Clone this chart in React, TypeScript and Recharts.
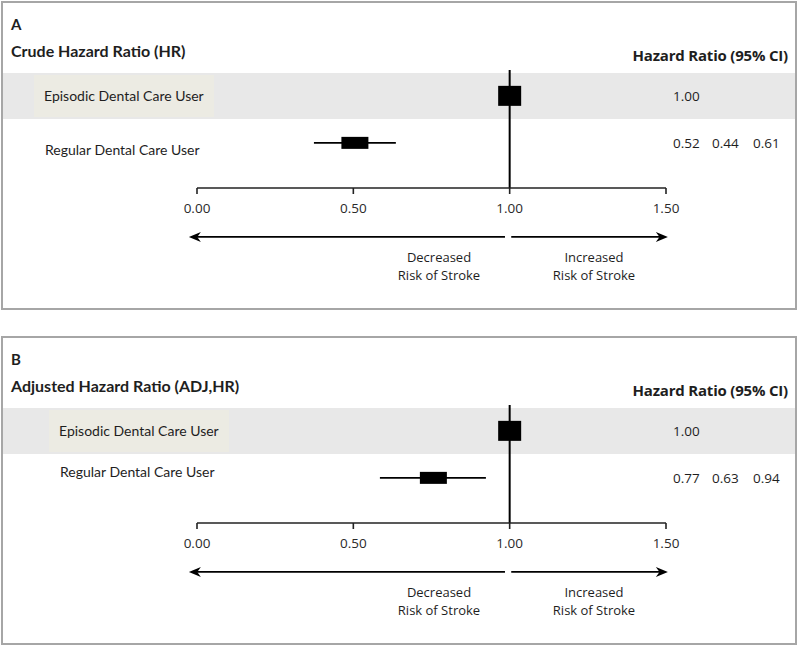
import React from "react";
import {
  ComposedChart,
  ErrorBar,
  ReferenceLine,
  Scatter,
  XAxis,
  YAxis,
} from "recharts";

const rowLabels = ["Episodic Dental Care User", "Regular Dental Care User"];
const rowIndex = [0, 1];
const axisTicks = [0, 0.5, 1, 1.5];

// table values as printed on the right
const crudeHR = ["1.00", "0.52"];
const crudeLow = ["", "0.44"];
const crudeHigh = ["", "0.61"];
const adjHR = ["1.00", "0.77"];
const adjLow = ["", "0.63"];
const adjHigh = ["", "0.94"];

// marks as they are drawn in the figure (box centre, whisker ends)
const crudeMark = [1.0, 0.505];
const crudeMarkLow = [1.0, 0.374];
const crudeMarkHigh = [1.0, 0.636];
const adjMark = [1.0, 0.756];
const adjMarkLow = [1.0, 0.585];
const adjMarkHigh = [1.0, 0.924];

// direction arrows under the axis (tail, tip)
const decreasedArrow = [0.985, -0.026];
const increasedArrow = [1.005, 1.506];

const LABEL_FONT = "Lato, 'Open Sans', sans-serif";
const NUM_FONT = "'Open Sans', 'Noto Sans', sans-serif";
const INK = "#1e1e1e";

type Row = { row: number; hr: number; err: [number, number]; ref: boolean };

function buildRows(mark: number[], lo: number[], hi: number[]): Row[] {
  return rowIndex.map((i) => ({
    row: i,
    hr: mark[i],
    err: [mark[i] - lo[i], hi[i] - mark[i]],
    ref: i === 0,
  }));
}

function Marker(props: any) {
  const { cx, cy, payload } = props;
  const w = payload.ref ? 23 : 27;
  const h = payload.ref ? 20 : 12;
  return <rect x={cx - w / 2} y={cy - h / 2} width={w} height={h} fill="#000" />;
}

function Arrow(props: any) {
  const { x1, y1, x2, y2 } = props;
  const dir = x2 > x1 ? 1 : -1;
  const len = 12;
  const half = 5;
  return (
    <g>
      <line x1={x1} y1={y1} x2={x2 - dir * len * 0.6} y2={y2} stroke="#000" strokeWidth={1.6} />
      <polygon
        points={`${x2},${y2} ${x2 - dir * len},${y2 - half} ${x2 - dir * len * 0.7},${y2} ${x2 - dir * len},${y2 + half}`}
        fill="#000"
      />
    </g>
  );
}

function Panel({
  top,
  letter,
  title,
  rows,
  hr,
  low,
  high,
  labelX,
  regularShift,
}: {
  top: number;
  letter: string;
  title: string;
  rows: Row[];
  hr: string[];
  low: string[];
  high: string[];
  labelX: number;
  regularShift: number;
}) {
  const LeftTick = (p: any) => {
    const i = p.payload.value;
    return (
      <text
        x={labelX + (i === 1 ? 1 : 0)}
        y={p.y + (i === 1 ? regularShift : 0)}
        dy={5}
        textAnchor="start"
        fontFamily={LABEL_FONT}
        fontSize={14}
        fill={INK}
      >
        {rowLabels[i]}
      </text>
    );
  };
  const RightTick = (p: any) => {
    const i = p.payload.value;
    const cols = [hr[i], low[i], high[i]];
    const xs = [673, 712, 753];
    return (
      <g>
        {cols.map((c, k) => (
          <text
            key={k}
            x={xs[k]}
            y={p.y}
            dy={5}
            textAnchor="start"
            fontFamily={NUM_FONT}
            fontSize={13.5}
            fill={INK}
          >
            {c}
          </text>
        ))}
      </g>
    );
  };

  return (
    <div style={{ position: "absolute", left: 0, top, width: 800, height: 312 }}>
      {/* shaded reference row */}
      <div style={{ position: "absolute", left: 2, top: 73, width: 793, height: 46, background: "#e8e8e8" }} />
      <div
        style={{
          position: "absolute",
          left: labelX - 10,
          top: 75,
          width: 180,
          height: 42,
          background: "#ecebe3",
        }}
      />
      <div
        style={{
          position: "absolute",
          left: 1,
          top: 1,
          width: 796,
          height: 309,
          border: "2px solid #a6a6a6",
          boxSizing: "border-box",
        }}
      />
      <div
        style={{
          position: "absolute",
          left: 11,
          top: 14,
          fontFamily: LABEL_FONT,
          fontWeight: 700,
          fontSize: 15,
          color: INK,
          lineHeight: "20px",
        }}
      >
        {letter}
      </div>
      <div
        style={{
          position: "absolute",
          left: 11,
          top: 40,
          fontFamily: LABEL_FONT,
          fontWeight: 700,
          fontSize: 16,
          color: INK,
          lineHeight: "22px",
          whiteSpace: "nowrap",
        }}
      >
        {title}
      </div>
      <div
        style={{
          position: "absolute",
          right: 800 - 788,
          top: 44,
          fontFamily: NUM_FONT,
          fontWeight: 700,
          fontSize: 15,
          color: INK,
          lineHeight: "22px",
          whiteSpace: "nowrap",
          letterSpacing: -0.2,
        }}
      >
        Hazard Ratio (95% CI)
      </div>
      {[
        { x: 439, t: "Decreased" },
        { x: 594, t: "Increased" },
      ].map((d) => (
        <div
          key={d.t}
          style={{
            position: "absolute",
            left: d.x - 60,
            width: 120,
            top: 248,
            textAlign: "center",
            fontFamily: NUM_FONT,
            fontSize: 13,
            lineHeight: "18px",
            color: INK,
          }}
        >
          {d.t}
          <br />
          Risk of Stroke
        </div>
      ))}
      <div style={{ position: "absolute", left: 0, top: 0 }}>
        <ComposedChart
          width={800}
          height={312}
          data={rows}
          margin={{ top: 70, right: 0, bottom: 84, left: 0 }}
        >
          <XAxis
            type="number"
            dataKey="hr"
            domain={[0, 1.5]}
            ticks={axisTicks}
            allowDataOverflow
            tickFormatter={(v: number) => v.toFixed(2)}
            axisLine={{ stroke: "#222", strokeWidth: 1.6 }}
            tickLine={{ stroke: "#222", strokeWidth: 1.6 }}
            tickSize={6}
            tickMargin={9}
            tick={{ fontFamily: NUM_FONT, fontSize: 13.5, fill: "#2a2a2a" }}
            height={40}
          />
          <YAxis
            yAxisId="left"
            type="number"
            dataKey="row"
            domain={[-0.55, 1.96]}
            reversed
            ticks={rowIndex}
            width={197}
            axisLine={false}
            tickLine={false}
            tick={LeftTick}
            allowDataOverflow
          />
          <YAxis
            yAxisId="right"
            orientation="right"
            type="number"
            domain={[-0.55, 1.96]}
            reversed
            ticks={rowIndex}
            width={134}
            axisLine={false}
            tickLine={false}
            tick={RightTick}
            allowDataOverflow
          />
          <ReferenceLine yAxisId="left" x={1} stroke="#000" strokeWidth={2} />
          <ReferenceLine
            yAxisId="left"
            ifOverflow="visible"
            segment={[
              { x: decreasedArrow[0], y: 3 },
              { x: decreasedArrow[1], y: 3 },
            ]}
            shape={Arrow}
          />
          <ReferenceLine
            yAxisId="left"
            ifOverflow="visible"
            segment={[
              { x: increasedArrow[0], y: 3 },
              { x: increasedArrow[1], y: 3 },
            ]}
            shape={Arrow}
          />
          <Scatter
            yAxisId="left"
            dataKey="row"
            shape={Marker}
            isAnimationActive={false}
          >
            <ErrorBar
              dataKey="err"
              direction="x"
              width={0}
              stroke="#000"
              strokeWidth={1.6}
              isAnimationActive={false}
            />
          </Scatter>
        </ComposedChart>
      </div>
    </div>
  );
}

export default function App() {
  const crudeRows = buildRows(crudeMark, crudeMarkLow, crudeMarkHigh);
  const adjRows = buildRows(adjMark, adjMarkLow, adjMarkHigh);
  return (
    <div
      style={{
        position: "absolute",
        left: 0,
        top: 0,
        width: 800,
        height: 648,
        background: "#fff",
        overflow: "hidden",
      }}
    >
      <Panel
        top={0}
        letter="A"
        title="Crude Hazard Ratio (HR)"
        rows={crudeRows}
        hr={crudeHR}
        low={crudeLow}
        high={crudeHigh}
        labelX={44}
        regularShift={7}
      />
      <Panel
        top={335}
        letter="B"
        title="Adjusted Hazard Ratio (ADJ,HR)"
        rows={adjRows}
        hr={adjHR}
        low={adjLow}
        high={adjHigh}
        labelX={59}
        regularShift={-6}
      />
    </div>
  );
}
